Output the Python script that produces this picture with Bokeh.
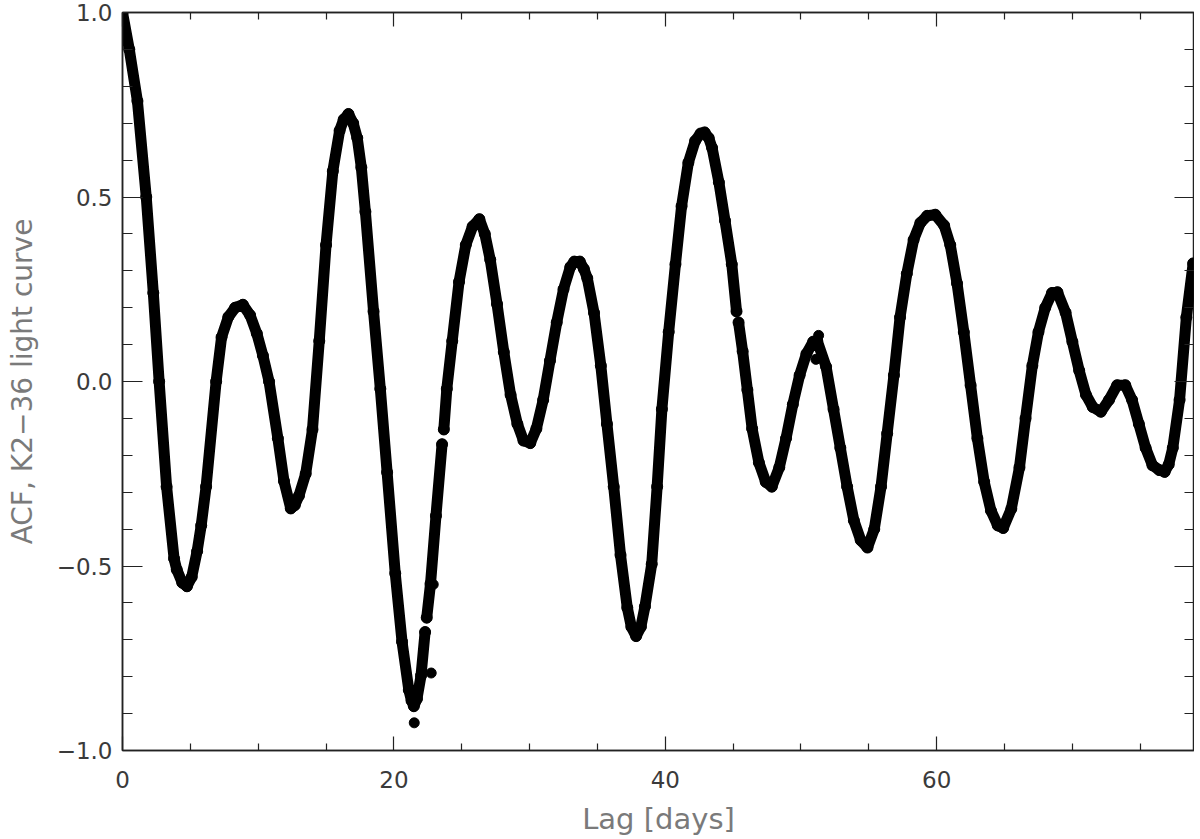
from bokeh.plotting import figure
from bokeh.models import LinearAxis, FixedTicker, Range1d, ColumnDataSource
from bokeh.embed import file_html
from bokeh.resources import INLINE

nan = float("nan")

# Lag in days and ACF values (nan = gap in the data)
lag_days = [0.0, 0.5, 1.1, 1.75, 2.27, 2.7, 3.25, 3.8, 4.0, 4.4, 4.75, 5.1, 5.5, 5.8, 6.16,
            6.9, 7.3, 7.8, 8.3, 8.87, 9.4, 9.9, 10.35, 10.8, 11.45, 11.9, 12.4, 12.7, 13.0,
            13.5, 14.0, 14.5, 15.0, 15.5, 16.0, 16.3, 16.65, 17.0, 17.3, 17.6, 17.9, 18.5,
            19.0, 19.5, 20.1, 20.6, 21.1, 21.3, 21.47, 21.7, 22.0, 22.3,
            22.36, 22.42, 22.7, 23.1, 23.55, 23.62, 23.68, 23.9, 24.3, 24.8, 25.3, 25.8,
            26.3, 26.7, 27.1, 27.6, 28.1, 28.6, 29.1, 29.55, 30.05, 30.5, 31.0, 31.5, 32.0,
            32.5, 33.0, 33.3, 33.7, 34.0, 34.25, 34.75, 35.25, 35.7, 36.2, 36.7, 37.2, 37.5,
            37.85, 38.2, 38.5, 39.0, 39.4, 39.75, 40.25, 40.75, 41.2, 41.7, 42.2, 42.6, 42.9,
            43.2, 43.45, 43.95, 44.4, 44.9, 45.25, 45.32, 45.4, 45.7, 46.05, 46.4, 46.9,
            47.4, 47.85, 48.4, 48.9, 49.4, 49.9, 50.4, 50.9, 51.2, 51.85, 52.4, 52.9, 53.4,
            53.9, 54.4, 54.9, 55.4, 55.9, 56.35, 56.85, 57.3, 57.8, 58.3, 58.8, 59.3, 59.9,
            60.55, 61.0, 61.5, 62.0, 62.5, 63.0, 63.5, 64.0, 64.5, 64.9, 65.5, 66.1, 66.55,
            67.05, 67.5, 68.0, 68.5, 68.9, 69.5, 70.0, 70.5, 71.0, 71.5, 72.1, 72.7, 73.3,
            73.9, 74.4, 74.9, 75.4, 75.9, 76.4, 76.8, 77.1, 77.4, 77.9, 78.4, 78.9]
acf = [1.0, 0.9, 0.76, 0.50, 0.24, 0.0, -0.285, -0.48, -0.51, -0.545, -0.555, -0.53, -0.46,
       -0.39, -0.285, 0.0, 0.12, 0.175, 0.2, 0.208, 0.18, 0.13, 0.07, 0.0, -0.154, -0.27,
       -0.344, -0.335, -0.31, -0.25, -0.13, 0.11, 0.37, 0.57, 0.68, 0.71, 0.725, 0.70,
       0.66, 0.58, 0.46, 0.19, -0.02, -0.246, -0.52, -0.705, -0.836, -0.865, -0.88, -0.86,
       -0.797, -0.679, nan, -0.64, -0.548, -0.364, -0.17, nan, -0.13, -0.02, 0.11, 0.27,
       0.37, 0.42, 0.44, 0.40, 0.33, 0.21, 0.08, -0.036, -0.115, -0.16, -0.167, -0.128,
       -0.05, 0.056, 0.16, 0.25, 0.31, 0.325, 0.325, 0.305, 0.28, 0.186, 0.043, -0.115,
       -0.285, -0.47, -0.613, -0.665, -0.69, -0.665, -0.61, -0.495, -0.285, -0.075, 0.134,
       0.318, 0.475, 0.593, 0.652, 0.672, 0.675, 0.66, 0.633, 0.54, 0.436, 0.318, 0.19,
       nan, 0.16, 0.082, -0.023, -0.128, -0.22, -0.272, -0.285, -0.233, -0.154, -0.062,
       0.017, 0.075, 0.108, 0.11, 0.04, -0.075, -0.18, -0.285, -0.377, -0.43, -0.45,
       -0.40, -0.285, -0.141, 0.017, 0.174, 0.292, 0.384, 0.43, 0.449, 0.452, 0.423, 0.37,
       0.266, 0.134, -0.01, -0.154, -0.272, -0.35, -0.39, -0.397, -0.345, -0.233, -0.10,
       0.043, 0.134, 0.2, 0.24, 0.242, 0.187, 0.108, 0.03, -0.036, -0.069, -0.082, -0.05,
       -0.01, -0.01, -0.05, -0.115, -0.18, -0.227, -0.24, -0.245, -0.225, -0.18, -0.05,
       0.174, 0.32]

# isolated off-curve points
outlier_lag = [21.5, 22.75, 22.9, 51.3, 51.1]
outlier_acf = [-0.925, -0.79, -0.55, 0.125, 0.06]

x_major_ticks = [0, 20, 40, 60]
x_minor_ticks = [5, 10, 15, 25, 30, 35, 45, 50, 55, 65, 70, 75]
y_major_ticks = [-1.0, -0.5, 0.0, 0.5, 1.0]
y_tick_labels = ["\u22121.0", "\u22120.5", "0.0", "0.5", "1.0"]
y_minor_ticks = [-0.9, -0.8, -0.7, -0.6, -0.4, -0.3, -0.2, -0.1,
                 0.1, 0.2, 0.3, 0.4, 0.6, 0.7, 0.8, 0.9]

x_title = "Lag [days]"
y_title = "ACF, K2\u221236 light curve"

FONT = "DejaVu Sans"
X0, X1, Y0, Y1 = 0, 79, -1.0, 1.0

p = figure(width=1194, height=838, output_backend="svg", toolbar_location=None,
           x_range=Range1d(X0, X1), y_range=Range1d(Y0, Y1),
           min_border_left=122, min_border_right=0, min_border_top=12, min_border_bottom=86)
p.grid.visible = False
p.background_fill_color = "white"
p.outline_line_color = "#222222"
p.outline_line_width = 1.5

src = ColumnDataSource(dict(x=lag_days, y=acf))
p.line("x", "y", source=src, line_color="black", line_width=11,
       line_join="round", line_cap="round")
p.scatter("x", "y", source=src, size=11, color="black")
p.scatter(outlier_lag, outlier_acf, size=10, color="black")


def style(ax, major, minor, show):
    ax.axis_line_color = "#222222"
    ax.axis_line_width = 1.5
    ax.major_tick_line_color = "#222222"
    ax.minor_tick_line_color = "#222222"
    ax.major_tick_line_width = 1.2
    ax.minor_tick_line_width = 1.2
    ax.major_tick_in = major
    ax.major_tick_out = 0
    ax.minor_tick_in = minor
    ax.minor_tick_out = 0
    ax.major_label_text_font = FONT
    ax.major_label_text_font_size = "23px" if show else "1px"
    ax.major_label_text_color = "#3a3a3a"
    ax.axis_label_text_font = FONT
    ax.axis_label_text_font_style = "normal"
    ax.axis_label_text_color = "#7a7a7a"
    if not show:
        ax.major_label_standoff = 0


xa = p.xaxis[0]
xa.ticker = FixedTicker(ticks=x_major_ticks, minor_ticks=x_minor_ticks)
style(xa, 14, 7, True)
xa.major_label_standoff = 20
xa.axis_label = x_title
xa.axis_label_text_font_size = "29px"
xa.axis_label_standoff = 11

ya = p.yaxis[0]
ya.ticker = FixedTicker(ticks=y_major_ticks, minor_ticks=y_minor_ticks)
style(ya, 20, 10, True)
ya.major_label_overrides = {v: s for v, s in zip(y_major_ticks, y_tick_labels)}
ya.major_label_standoff = 10
ya.axis_label = y_title
ya.axis_label_text_font_size = "28px"
ya.axis_label_standoff = 15

top = LinearAxis(ticker=FixedTicker(ticks=x_major_ticks, minor_ticks=x_minor_ticks))
style(top, 14, 7, False)
top.major_label_overrides = {v: "" for v in x_major_ticks}
p.add_layout(top, "above")

right = LinearAxis(ticker=FixedTicker(ticks=y_major_ticks, minor_ticks=y_minor_ticks))
style(right, 20, 10, False)
right.major_label_overrides = {v: "" for v in y_major_ticks}
p.add_layout(right, "right")

open("out.html", "w").write(file_html(p, INLINE))
